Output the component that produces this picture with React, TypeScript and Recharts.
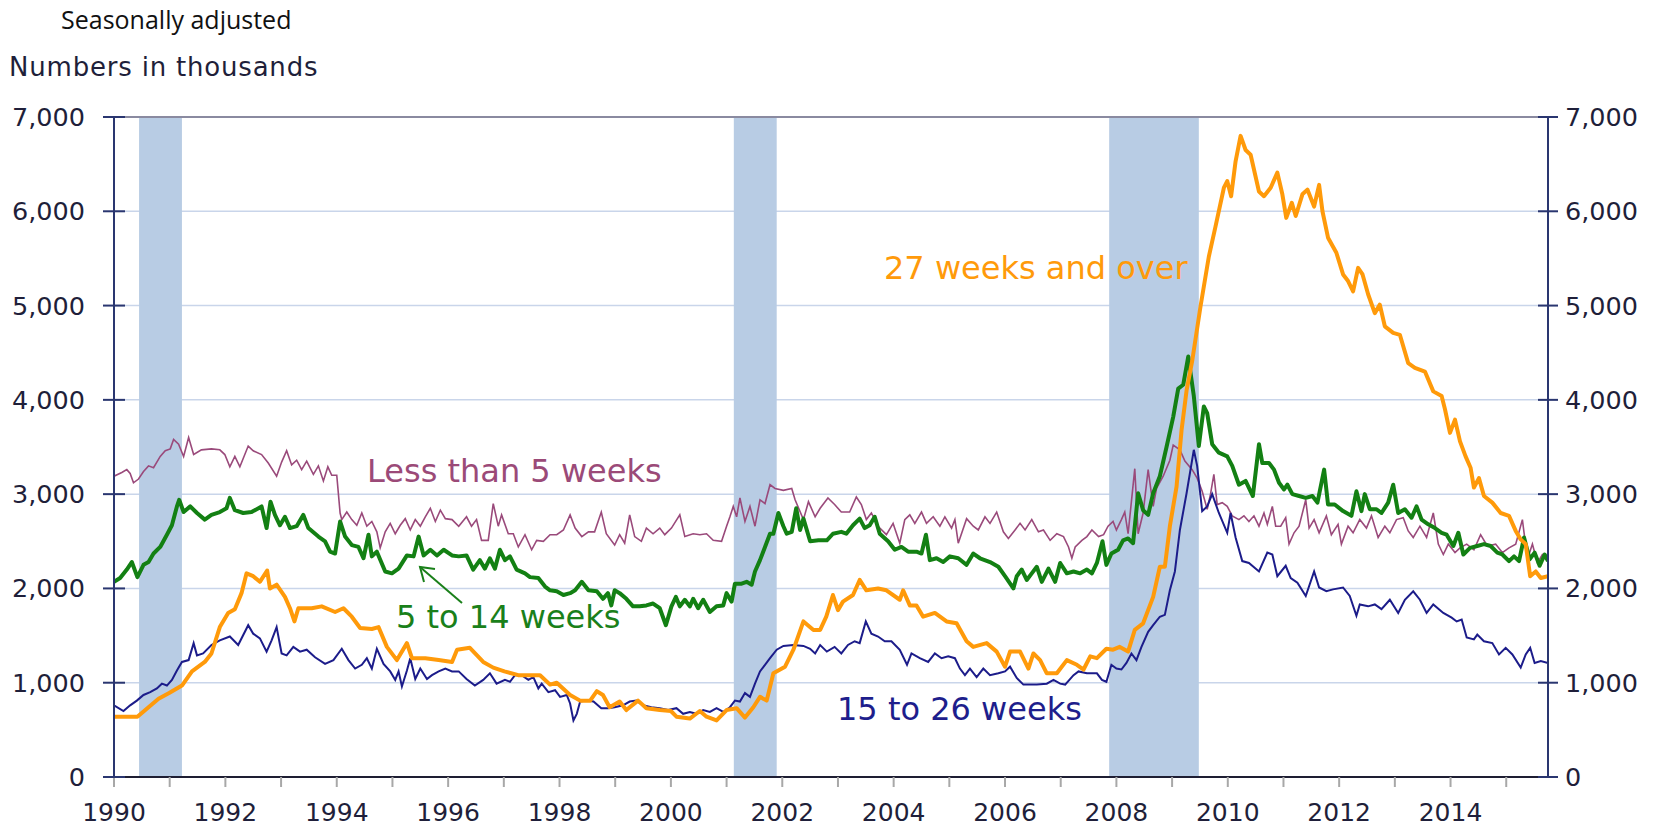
import React from "react";
import { ComposedChart, Line, XAxis, YAxis, CartesianGrid, ReferenceArea, ReferenceLine } from "recharts";

// eixo X: anos (decimais = meses), eixo Y: milhares de pessoas
const yearTicks = [1990, 1991, 1992, 1993, 1994, 1995, 1996, 1997, 1998, 1999, 2000, 2001, 2002, 2003, 2004, 2005, 2006, 2007, 2008, 2009, 2010, 2011, 2012, 2013, 2014, 2015];
const valueTicks = [0, 1000, 2000, 3000, 4000, 5000, 6000, 7000];

// recessões (faixas azuis)
const recessions: [number, number][] = [
    [1990.45, 1991.22],
    [2001.13, 2001.9],
    [2007.87, 2009.48],
];

// Less than 5 weeks
const under5: [number, number][] = [
    [1990.0, 3190], [1990.14, 3230], [1990.23, 3260], [1990.29, 3220], [1990.35, 3120], [1990.44, 3160], [1990.53, 3240], [1990.62, 3300], [1990.71, 3280], [1990.83, 3400], [1990.92, 3460],
    [1991.01, 3480], [1991.07, 3580], [1991.16, 3530], [1991.25, 3400], [1991.34, 3600], [1991.43, 3420], [1991.57, 3470], [1991.75, 3480], [1991.9, 3470], [1991.99, 3420],
    [1992.08, 3290], [1992.17, 3400], [1992.26, 3290], [1992.41, 3510], [1992.5, 3460], [1992.65, 3420], [1992.77, 3330], [1992.92, 3190],
    [1993.01, 3340], [1993.1, 3460], [1993.19, 3310], [1993.28, 3360], [1993.37, 3260], [1993.46, 3350], [1993.58, 3210], [1993.67, 3300], [1993.76, 3140], [1993.84, 3290], [1993.91, 3200],
    [1994.0, 3200], [1994.06, 2800], [1994.09, 2730], [1994.18, 2810], [1994.27, 2730], [1994.36, 2670], [1994.45, 2800], [1994.54, 2660], [1994.63, 2710], [1994.72, 2600], [1994.78, 2430], [1994.87, 2600], [1994.96, 2690],
    [1995.05, 2580], [1995.14, 2670], [1995.23, 2740], [1995.32, 2620], [1995.41, 2730], [1995.5, 2660], [1995.59, 2760], [1995.68, 2850], [1995.77, 2710], [1995.86, 2830], [1995.95, 2740],
    [1996.07, 2730], [1996.19, 2660], [1996.33, 2760], [1996.42, 2660], [1996.51, 2730], [1996.6, 2510], [1996.72, 2510], [1996.81, 2900], [1996.9, 2660], [1996.96, 2780],
    [1997.08, 2580], [1997.17, 2580], [1997.26, 2440], [1997.38, 2570], [1997.5, 2410], [1997.59, 2510], [1997.71, 2500], [1997.83, 2570], [1997.95, 2570],
    [1998.07, 2620], [1998.19, 2780], [1998.28, 2640], [1998.4, 2550], [1998.52, 2600], [1998.63, 2600], [1998.75, 2810], [1998.84, 2580], [1998.99, 2460],
    [1999.08, 2570], [1999.17, 2480], [1999.26, 2780], [1999.35, 2550], [1999.47, 2500], [1999.56, 2640], [1999.68, 2580], [1999.8, 2640], [1999.89, 2570],
    [2000.01, 2640], [2000.16, 2780], [2000.25, 2550], [2000.4, 2580], [2000.52, 2570], [2000.64, 2580], [2000.76, 2510], [2000.91, 2500],
    [2001.0, 2660], [2001.06, 2760], [2001.12, 2870], [2001.18, 2760], [2001.24, 2960], [2001.33, 2710], [2001.42, 2870], [2001.51, 2660], [2001.6, 2940], [2001.69, 2900], [2001.78, 3100], [2001.87, 3060],
    [2002.02, 3040], [2002.17, 3060], [2002.23, 2940], [2002.38, 2730], [2002.47, 2920], [2002.59, 2760], [2002.68, 2850], [2002.82, 2960], [2002.94, 2890],
    [2003.06, 2810], [2003.21, 2810], [2003.33, 2970], [2003.42, 2890], [2003.51, 2730], [2003.6, 2800], [2003.72, 2660], [2003.87, 2570], [2003.99, 2690],
    [2004.11, 2480], [2004.2, 2730], [2004.29, 2780], [2004.38, 2690], [2004.5, 2810], [2004.59, 2690], [2004.71, 2760], [2004.83, 2660], [2004.92, 2760],
    [2005.04, 2640], [2005.1, 2730], [2005.16, 2480], [2005.31, 2740], [2005.43, 2660], [2005.52, 2620], [2005.64, 2760], [2005.73, 2690], [2005.85, 2810], [2005.97, 2600],
    [2006.06, 2530], [2006.18, 2620], [2006.27, 2690], [2006.36, 2620], [2006.48, 2730], [2006.6, 2600], [2006.69, 2620], [2006.81, 2510], [2006.93, 2580],
    [2007.05, 2550], [2007.14, 2440], [2007.2, 2320], [2007.26, 2440], [2007.38, 2510], [2007.47, 2550], [2007.56, 2620], [2007.68, 2550], [2007.77, 2570], [2007.85, 2660], [2007.94, 2710],
    [2008.0, 2620], [2008.09, 2730], [2008.15, 2810], [2008.21, 2580], [2008.33, 3270], [2008.39, 2580], [2008.48, 2800], [2008.57, 3260], [2008.66, 2870], [2008.72, 3060], [2008.84, 3190], [2008.96, 3360],
    [2009.02, 3520], [2009.14, 3470], [2009.23, 3350], [2009.36, 3260], [2009.45, 3170], [2009.54, 3030], [2009.63, 2840], [2009.69, 3000], [2009.75, 3210], [2009.81, 2890], [2009.9, 2910], [2009.99, 2870],
    [2010.08, 2770], [2010.2, 2730], [2010.29, 2770], [2010.38, 2710], [2010.47, 2770], [2010.56, 2660], [2010.65, 2800], [2010.71, 2680], [2010.8, 2870], [2010.86, 2660], [2010.95, 2660],
    [2011.04, 2750], [2011.1, 2470], [2011.19, 2590], [2011.28, 2660], [2011.4, 2940], [2011.46, 2640], [2011.55, 2730], [2011.64, 2590], [2011.77, 2770], [2011.86, 2570], [2011.98, 2680],
    [2012.04, 2470], [2012.16, 2660], [2012.25, 2590], [2012.37, 2730], [2012.49, 2640], [2012.58, 2770], [2012.7, 2540], [2012.82, 2660], [2012.91, 2590],
    [2013.03, 2730], [2013.15, 2750], [2013.24, 2610], [2013.33, 2540], [2013.45, 2660], [2013.57, 2540], [2013.69, 2800], [2013.78, 2470], [2013.87, 2360], [2013.96, 2470],
    [2014.08, 2380], [2014.17, 2430], [2014.29, 2470], [2014.42, 2410], [2014.54, 2570], [2014.66, 2450], [2014.81, 2470], [2014.93, 2380],
    [2015.05, 2430], [2015.17, 2470], [2015.29, 2730], [2015.38, 2310], [2015.47, 2470], [2015.56, 2270], [2015.65, 2360], [2015.75, 2340],
];

// 5 to 14 weeks
const weeks5to14: [number, number][] = [
    [1990.0, 2070], [1990.11, 2110], [1990.23, 2200], [1990.32, 2280], [1990.42, 2120], [1990.53, 2250], [1990.62, 2280], [1990.71, 2370], [1990.83, 2440], [1990.95, 2570],
    [1991.04, 2670], [1991.13, 2870], [1991.17, 2940], [1991.25, 2810], [1991.37, 2870], [1991.49, 2800], [1991.63, 2730], [1991.75, 2780], [1991.9, 2810],
    [1992.02, 2850], [1992.08, 2960], [1992.17, 2830], [1992.32, 2800], [1992.47, 2810], [1992.65, 2870], [1992.74, 2640], [1992.81, 2920], [1992.89, 2780], [1992.98, 2670],
    [1993.07, 2760], [1993.16, 2640], [1993.28, 2660], [1993.4, 2780], [1993.49, 2640], [1993.67, 2550], [1993.79, 2500], [1993.88, 2390], [1993.97, 2370],
    [1994.06, 2710], [1994.15, 2550], [1994.27, 2460], [1994.39, 2440], [1994.48, 2320], [1994.57, 2570], [1994.63, 2340], [1994.72, 2390], [1994.87, 2180], [1994.99, 2160],
    [1995.11, 2210], [1995.26, 2350], [1995.38, 2340], [1995.47, 2550], [1995.56, 2350], [1995.68, 2410], [1995.8, 2350], [1995.92, 2410],
    [1996.07, 2350], [1996.19, 2340], [1996.33, 2350], [1996.45, 2200], [1996.57, 2300], [1996.66, 2210], [1996.75, 2320], [1996.84, 2210], [1996.93, 2410],
    [1997.02, 2300], [1997.11, 2340], [1997.23, 2200], [1997.38, 2160], [1997.47, 2120], [1997.62, 2110], [1997.74, 2020], [1997.83, 1980], [1997.95, 1970],
    [1998.07, 1930], [1998.19, 1950], [1998.28, 1980], [1998.4, 2070], [1998.52, 1980], [1998.67, 1970], [1998.78, 1890], [1998.87, 1950], [1998.93, 1820], [1998.99, 1980],
    [1999.08, 1950], [1999.2, 1890], [1999.32, 1810], [1999.44, 1810], [1999.56, 1820], [1999.68, 1840], [1999.8, 1790], [1999.91, 1610],
    [2000.01, 1810], [2000.09, 1910], [2000.16, 1810], [2000.25, 1880], [2000.34, 1810], [2000.4, 1890], [2000.49, 1790], [2000.58, 1880], [2000.7, 1750], [2000.82, 1810], [2000.94, 1820],
    [2001.0, 1950], [2001.09, 1860], [2001.15, 2050], [2001.27, 2050], [2001.36, 2070], [2001.45, 2040], [2001.51, 2180], [2001.6, 2300], [2001.69, 2440], [2001.78, 2580], [2001.84, 2580], [2001.93, 2800],
    [2002.02, 2660], [2002.08, 2580], [2002.17, 2600], [2002.25, 2850], [2002.32, 2620], [2002.38, 2740], [2002.5, 2500], [2002.65, 2510], [2002.8, 2510], [2002.91, 2580],
    [2003.06, 2600], [2003.15, 2580], [2003.27, 2670], [2003.39, 2740], [2003.48, 2640], [2003.57, 2670], [2003.66, 2760], [2003.75, 2580], [2003.9, 2500],
    [2004.02, 2410], [2004.14, 2440], [2004.26, 2390], [2004.41, 2390], [2004.5, 2370], [2004.58, 2570], [2004.65, 2300], [2004.77, 2320], [2004.89, 2280],
    [2005.01, 2340], [2005.16, 2320], [2005.31, 2250], [2005.43, 2370], [2005.55, 2320], [2005.73, 2280], [2005.88, 2230],
    [2006.0, 2130], [2006.15, 2000], [2006.21, 2130], [2006.3, 2200], [2006.39, 2090], [2006.48, 2160], [2006.57, 2230], [2006.66, 2070], [2006.78, 2210], [2006.9, 2070], [2006.99, 2270],
    [2007.11, 2160], [2007.23, 2180], [2007.35, 2160], [2007.47, 2200], [2007.56, 2160], [2007.65, 2270], [2007.75, 2500], [2007.82, 2250], [2007.91, 2370],
    [2008.03, 2410], [2008.12, 2510], [2008.21, 2530], [2008.3, 2480], [2008.39, 3010], [2008.48, 2830], [2008.57, 2780], [2008.66, 3010], [2008.78, 3190], [2008.9, 3500],
    [2009.02, 3820], [2009.11, 4120], [2009.2, 4160], [2009.29, 4460], [2009.39, 4040], [2009.48, 3510], [2009.57, 3930], [2009.63, 3860], [2009.72, 3530], [2009.84, 3440], [2009.99, 3400],
    [2010.08, 3300], [2010.2, 3100], [2010.32, 3140], [2010.45, 2980], [2010.56, 3530], [2010.62, 3330], [2010.74, 3330], [2010.83, 3260], [2010.92, 3120],
    [2011.01, 3050], [2011.07, 3100], [2011.16, 3000], [2011.28, 2980], [2011.4, 2960], [2011.52, 2980], [2011.61, 2910], [2011.73, 3260], [2011.8, 2890], [2011.92, 2890],
    [2012.07, 2820], [2012.22, 2770], [2012.31, 3030], [2012.4, 2820], [2012.46, 3000], [2012.55, 2840], [2012.67, 2840], [2012.76, 2800], [2012.88, 2910], [2012.97, 3100],
    [2013.06, 2800], [2013.18, 2840], [2013.3, 2750], [2013.39, 2870], [2013.48, 2730], [2013.6, 2680], [2013.72, 2640], [2013.84, 2590], [2013.93, 2570],
    [2014.05, 2450], [2014.14, 2590], [2014.23, 2360], [2014.35, 2430], [2014.48, 2450], [2014.6, 2470], [2014.72, 2450], [2014.84, 2380], [2014.93, 2360],
    [2015.05, 2290], [2015.14, 2340], [2015.23, 2290], [2015.32, 2540], [2015.42, 2310], [2015.51, 2380], [2015.6, 2240], [2015.69, 2360], [2015.75, 2290],
];

// 15 to 26 weeks
const weeks15to26: [number, number][] = [
    [1990.0, 760], [1990.17, 700], [1990.29, 760], [1990.41, 810], [1990.53, 870], [1990.65, 900], [1990.77, 940], [1990.86, 990], [1990.95, 970],
    [1991.04, 1030], [1991.13, 1130], [1991.22, 1220], [1991.34, 1240], [1991.43, 1420], [1991.49, 1290], [1991.6, 1310], [1991.75, 1400], [1991.9, 1450],
    [1992.08, 1490], [1992.23, 1400], [1992.41, 1610], [1992.5, 1520], [1992.62, 1470], [1992.74, 1330], [1992.83, 1450], [1992.92, 1590],
    [1993.01, 1310], [1993.1, 1290], [1993.22, 1380], [1993.34, 1330], [1993.46, 1350], [1993.61, 1270], [1993.79, 1200], [1993.94, 1240],
    [1994.09, 1360], [1994.21, 1240], [1994.33, 1150], [1994.45, 1190], [1994.54, 1260], [1994.63, 1150], [1994.72, 1360], [1994.84, 1200], [1994.96, 1120],
    [1995.05, 1030], [1995.11, 1120], [1995.17, 960], [1995.26, 1130], [1995.32, 1260], [1995.41, 1040], [1995.5, 1150], [1995.62, 1040], [1995.71, 1080], [1995.83, 1120], [1995.95, 1150],
    [1996.07, 1120], [1996.19, 1120], [1996.33, 1040], [1996.48, 970], [1996.63, 1030], [1996.75, 1100], [1996.87, 990],
    [1997.02, 1030], [1997.11, 1010], [1997.2, 1080], [1997.32, 1080], [1997.44, 1030], [1997.53, 1060], [1997.62, 940], [1997.68, 990], [1997.8, 900], [1997.92, 920],
    [1998.01, 850], [1998.13, 870], [1998.19, 780], [1998.25, 600], [1998.31, 670], [1998.37, 800], [1998.49, 810], [1998.61, 800], [1998.75, 730], [1998.87, 730], [1998.99, 740],
    [1999.14, 760], [1999.26, 800], [1999.38, 810], [1999.5, 760], [1999.65, 740], [1999.8, 730], [1999.95, 710],
    [2000.1, 730], [2000.22, 670], [2000.34, 690], [2000.46, 670], [2000.58, 710], [2000.7, 690], [2000.82, 730], [2000.94, 690],
    [2001.06, 740], [2001.15, 810], [2001.24, 800], [2001.33, 890], [2001.42, 850], [2001.51, 990], [2001.6, 1120], [2001.69, 1190], [2001.78, 1260], [2001.9, 1350],
    [2002.02, 1390], [2002.2, 1400], [2002.38, 1390], [2002.5, 1360], [2002.59, 1310], [2002.68, 1400], [2002.8, 1330], [2002.94, 1380],
    [2003.06, 1310], [2003.18, 1400], [2003.3, 1440], [2003.39, 1420], [2003.5, 1650], [2003.6, 1520], [2003.72, 1490], [2003.84, 1440], [2003.96, 1440],
    [2004.11, 1350], [2004.24, 1190], [2004.32, 1310], [2004.47, 1260], [2004.62, 1220], [2004.74, 1310], [2004.86, 1260], [2004.98, 1280],
    [2005.1, 1260], [2005.19, 1150], [2005.28, 1080], [2005.37, 1150], [2005.49, 1060], [2005.61, 1150], [2005.73, 1080], [2005.88, 1100],
    [2006.0, 1120], [2006.09, 1170], [2006.21, 1050], [2006.33, 980], [2006.57, 980], [2006.75, 990], [2006.87, 1030], [2006.99, 990],
    [2007.08, 980], [2007.23, 1080], [2007.32, 1120], [2007.47, 1100], [2007.65, 1100], [2007.74, 1030], [2007.82, 1010], [2007.91, 1190],
    [2008.0, 1150], [2008.09, 1140], [2008.18, 1210], [2008.27, 1310], [2008.36, 1240], [2008.45, 1380], [2008.57, 1540], [2008.66, 1610], [2008.78, 1700], [2008.87, 1720], [2008.96, 1980],
    [2009.05, 2180], [2009.14, 2620], [2009.26, 3010], [2009.39, 3470], [2009.45, 3300], [2009.54, 2820], [2009.63, 2870], [2009.72, 3000], [2009.84, 2800], [2009.99, 2590],
    [2010.05, 2800], [2010.14, 2540], [2010.26, 2290], [2010.38, 2270], [2010.56, 2180], [2010.71, 2380], [2010.8, 2360], [2010.89, 2130],
    [2011.04, 2240], [2011.13, 2110], [2011.25, 2060], [2011.4, 1920], [2011.55, 2180], [2011.64, 2010], [2011.77, 1970], [2011.89, 1990],
    [2012.07, 2010], [2012.19, 1920], [2012.31, 1710], [2012.37, 1830], [2012.52, 1810], [2012.64, 1830], [2012.76, 1780], [2012.91, 1880],
    [2013.06, 1740], [2013.18, 1880], [2013.33, 1970], [2013.45, 1880], [2013.57, 1740], [2013.69, 1830], [2013.87, 1740],
    [2014.02, 1690], [2014.11, 1650], [2014.2, 1670], [2014.29, 1480], [2014.42, 1460], [2014.48, 1510], [2014.6, 1440], [2014.75, 1420], [2014.87, 1300], [2014.99, 1370],
    [2015.11, 1300], [2015.26, 1160], [2015.35, 1300], [2015.43, 1370], [2015.51, 1210], [2015.62, 1230], [2015.75, 1210],
];

// 27 weeks and over
const weeks27plus: [number, number][] = [
    [1990.0, 640], [1990.42, 640], [1990.62, 740], [1990.8, 830], [1990.99, 890],
    [1991.22, 970], [1991.4, 1120], [1991.63, 1220], [1991.75, 1310], [1991.9, 1590],
    [1992.05, 1740], [1992.17, 1780], [1992.29, 1950], [1992.38, 2160], [1992.5, 2130], [1992.62, 2070], [1992.75, 2190], [1992.8, 2000], [1992.92, 2040],
    [1993.07, 1910], [1993.16, 1790], [1993.24, 1650], [1993.31, 1790], [1993.55, 1790], [1993.73, 1810], [1993.97, 1750],
    [1994.12, 1790], [1994.27, 1700], [1994.42, 1580], [1994.63, 1570], [1994.75, 1590], [1994.9, 1380],
    [1995.08, 1240], [1995.26, 1420], [1995.35, 1260], [1995.59, 1260], [1995.83, 1240],
    [1996.07, 1220], [1996.16, 1350], [1996.39, 1370], [1996.63, 1220], [1996.81, 1160],
    [1997.01, 1120], [1997.26, 1080], [1997.65, 1080], [1997.83, 980], [1997.95, 1000],
    [1998.19, 870], [1998.37, 810], [1998.55, 810], [1998.67, 910], [1998.78, 870], [1998.9, 740],
    [1999.08, 800], [1999.2, 710], [1999.41, 810], [1999.56, 730], [1999.8, 710],
    [2000.0, 700], [2000.1, 640], [2000.34, 620], [2000.52, 700], [2000.64, 640], [2000.82, 600],
    [2001.0, 710], [2001.18, 730], [2001.33, 630], [2001.48, 740], [2001.6, 850], [2001.72, 810], [2001.84, 1100],
    [2002.05, 1170], [2002.2, 1350], [2002.38, 1650], [2002.56, 1560], [2002.68, 1560], [2002.79, 1700], [2002.91, 1930],
    [2003.0, 1770], [2003.09, 1860], [2003.27, 1930], [2003.39, 2090], [2003.51, 1980], [2003.72, 2000], [2003.87, 1980],
    [2004.11, 1880], [2004.17, 1980], [2004.29, 1820], [2004.41, 1820], [2004.53, 1700], [2004.74, 1740], [2004.95, 1650],
    [2005.13, 1630], [2005.31, 1440], [2005.43, 1380], [2005.67, 1420], [2005.85, 1330],
    [2006.0, 1170], [2006.09, 1330], [2006.27, 1330], [2006.42, 1150], [2006.51, 1310], [2006.63, 1240], [2006.75, 1100], [2006.93, 1100],
    [2007.11, 1240], [2007.29, 1190], [2007.41, 1140], [2007.53, 1280], [2007.65, 1260], [2007.82, 1360], [2007.94, 1350],
    [2008.06, 1380], [2008.21, 1330], [2008.33, 1560], [2008.48, 1630], [2008.66, 1910], [2008.78, 2230], [2008.87, 2230], [2008.96, 2660],
    [2009.08, 3080], [2009.17, 3680], [2009.26, 4100], [2009.36, 4410], [2009.51, 4990], [2009.66, 5520], [2009.78, 5840], [2009.93, 6250], [2009.99, 6320],
    [2010.06, 6160], [2010.14, 6530], [2010.23, 6800], [2010.32, 6650], [2010.41, 6600], [2010.56, 6210], [2010.65, 6160], [2010.77, 6250], [2010.89, 6410], [2010.98, 6180],
    [2011.05, 5930], [2011.15, 6090], [2011.22, 5950], [2011.34, 6180], [2011.43, 6230], [2011.55, 6050], [2011.64, 6280], [2011.7, 6000], [2011.8, 5720], [2011.95, 5560],
    [2012.07, 5330], [2012.16, 5260], [2012.25, 5150], [2012.34, 5400], [2012.42, 5330], [2012.52, 5120], [2012.64, 4920], [2012.73, 5010], [2012.82, 4780], [2012.97, 4710],
    [2013.09, 4690], [2013.24, 4390], [2013.36, 4340], [2013.54, 4300], [2013.69, 4090], [2013.84, 4040], [2013.9, 3900], [2013.99, 3650],
    [2014.08, 3790], [2014.17, 3560], [2014.27, 3400], [2014.36, 3280], [2014.42, 3070], [2014.51, 3170], [2014.6, 2980], [2014.75, 2910], [2014.9, 2800],
    [2015.05, 2770], [2015.17, 2610], [2015.26, 2520], [2015.35, 2470], [2015.43, 2130], [2015.53, 2180], [2015.62, 2110], [2015.75, 2130],
];

const toPoints = (s: [number, number][]) => s.map(([x, v]) => ({ x, v }));

const FONT = "'DejaVu Sans', Verdana, sans-serif";
const AXIS_COLOR = "#2a3670";
const LABEL_COLOR = "#1f1f3a";

const fmt = (v: number) => v.toLocaleString("en-US");

// marcas do eixo Y cruzam a linha do eixo
const LeftTick = (props: any) => {
    const { x, y, payload } = props;
    return (
        <g>
            <line x1={x - 11} x2={x + 11} y1={y} y2={y} stroke={AXIS_COLOR} strokeWidth={2} />
            <text x={x - 29} y={y} dy={9} textAnchor="end" fontSize={25.5} fontFamily={FONT} fill={LABEL_COLOR}>
                {fmt(payload.value)}
            </text>
        </g>
    );
};

const RightTick = (props: any) => {
    const { x, y, payload } = props;
    return (
        <g>
            <line x1={x - 10} x2={x + 10} y1={y} y2={y} stroke={AXIS_COLOR} strokeWidth={2} />
            <text x={x + 17} y={y} dy={9} textAnchor="start" fontSize={25.5} fontFamily={FONT} fill={LABEL_COLOR}>
                {fmt(payload.value)}
            </text>
        </g>
    );
};

export default function App() {
    return (
        <div style={{ position: "absolute", left: 0, top: 0, width: 1666, height: 829, background: "#fff" }}>
            <ComposedChart width={1666} height={829} margin={{ top: 117, right: 0, bottom: 0, left: 0 }}>
                <CartesianGrid vertical={false} stroke="#c9d5ea" strokeWidth={1.5} />
                {recessions.map(([a, b]) => (
                    <ReferenceArea key={a} x1={a} x2={b} fill="#b8cce4" fillOpacity={1} stroke="none" zIndex={-50} />
                ))}
                <ReferenceLine y={7000} stroke="#8a8aa0" strokeWidth={2} />
                <XAxis
                    type="number"
                    dataKey="x"
                    domain={[1990, 2015.75]}
                    allowDataOverflow
                    ticks={yearTicks}
                    interval={0}
                    tickFormatter={(t: number) => (t % 2 === 0 ? String(t) : "")}
                    height={52}
                    tickSize={10}
                    tickMargin={16}
                    axisLine={{ stroke: "#1e1e33", strokeWidth: 2 }}
                    tickLine={{ stroke: "#a8a8a8", strokeWidth: 2 }}
                    tick={{ fill: LABEL_COLOR, fontSize: 25, fontFamily: FONT }}
                />
                <YAxis
                    yAxisId={0}
                    domain={[0, 7000]}
                    allowDataOverflow
                    ticks={valueTicks}
                    interval={0}
                    width={114}
                    tickSize={0}
                    tickMargin={0}
                    tickLine={false}
                    axisLine={{ stroke: AXIS_COLOR, strokeWidth: 2 }}
                    tick={<LeftTick />}
                />
                <YAxis
                    yAxisId="right"
                    orientation="right"
                    domain={[0, 7000]}
                    allowDataOverflow
                    ticks={valueTicks}
                    interval={0}
                    width={118}
                    tickSize={0}
                    tickMargin={0}
                    tickLine={false}
                    axisLine={{ stroke: AXIS_COLOR, strokeWidth: 2 }}
                    tick={<RightTick />}
                />
                <Line data={toPoints(under5)} dataKey="v" stroke="#9a4a7b" strokeWidth={1.6} dot={false} isAnimationActive={false} />
                <Line data={toPoints(weeks15to26)} dataKey="v" stroke="#1c1c8a" strokeWidth={2} dot={false} isAnimationActive={false} />
                <Line data={toPoints(weeks5to14)} dataKey="v" stroke="#138013" strokeWidth={4} dot={false} strokeLinejoin="round" isAnimationActive={false} />
                <Line data={toPoints(weeks27plus)} dataKey="v" stroke="#ff9a0a" strokeWidth={4} dot={false} strokeLinejoin="round" isAnimationActive={false} />
            </ComposedChart>

            {/* títulos e rótulos das séries */}
            <svg width={1666} height={829} style={{ position: "absolute", left: 0, top: 0, pointerEvents: "none" }}>
                <text x={61} y={29} fontSize={25} fontFamily="'Open Sans', sans-serif" fill="#111">
                    Seasonally adjusted
                </text>
                <text x={9} y={76} fontSize={26} letterSpacing={0.8} fontFamily={FONT} fill={LABEL_COLOR}>
                    Numbers in thousands
                </text>
                <text x={884} y={279} fontSize={32} fontFamily={FONT} fill="#ff9a0a">
                    27 weeks and over
                </text>
                <text x={367} y={482} fontSize={32} fontFamily={FONT} fill="#9b4a78">
                    Less than 5 weeks
                </text>
                <text x={396} y={628} fontSize={32} fontFamily={FONT} fill="#1a801a">
                    5 to 14 weeks
                </text>
                <text x={837} y={720} fontSize={32} fontFamily={FONT} fill="#1e1e8c">
                    15 to 26 weeks
                </text>
                <line x1={462} y1={603} x2={420} y2={567} stroke="#1a801a" strokeWidth={2} />
                <polyline points="424,582 420,567 435,569" fill="none" stroke="#1a801a" strokeWidth={2} />
            </svg>
        </div>
    );
}
